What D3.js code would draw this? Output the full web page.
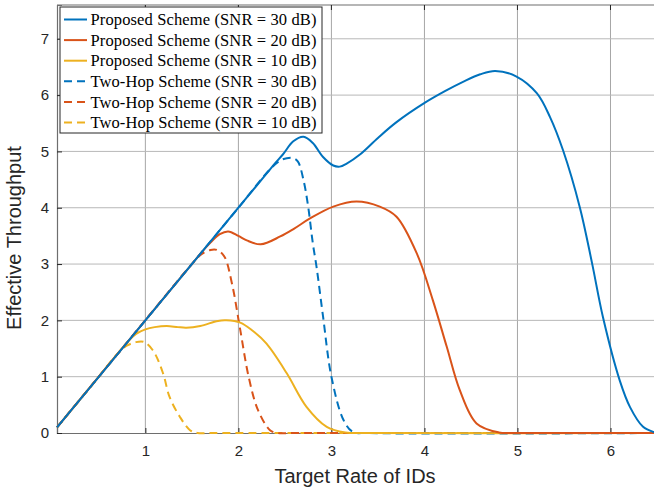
<!DOCTYPE html>
<html>
<head>
<meta charset="utf-8">
<script src="https://cdn.jsdelivr.net/npm/d3@7"></script>
<style>
  body { margin: 0; background: #fff; }
  svg { display: block; }
</style>
</head>
<body>
<div id="chart"></div>
<script>
// curve samples
let p30x = [0.05, 1.0, 2.0, 2.3, 2.4, 2.48, 2.59, 2.70, 2.80, 2.91, 3.02, 3.09, 3.16, 3.31, 3.50, 3.70, 4.01, 4.22, 4.42, 4.60, 4.76, 4.99, 5.21, 5.35, 5.49, 5.67, 5.80, 5.92, 6.10, 6.21, 6.35, 6.46, 6.5];
let p30y = [0.1, 2.0, 4.0, 4.6, 4.8, 4.95, 5.18, 5.26, 5.15, 4.90, 4.75, 4.73, 4.78, 4.95, 5.24, 5.52, 5.87, 6.07, 6.24, 6.37, 6.43, 6.33, 6.03, 5.61, 5.02, 4.01, 3.03, 2.05, 0.93, 0.46, 0.11, 0.02, 0.01];

let p20x = [0.05, 0.8, 1.5, 1.6, 1.7, 1.8, 1.89, 2.0, 2.09, 2.24, 2.45, 2.6, 2.77, 3.02, 3.27, 3.52, 3.70, 3.92, 4.09, 4.24, 4.38, 4.56, 4.8, 4.95, 5.2, 6.5];
let p20y = [0.1, 1.6, 3.0, 3.2, 3.38, 3.53, 3.58, 3.5, 3.42, 3.35, 3.49, 3.63, 3.81, 4.02, 4.11, 4.02, 3.84, 3.18, 2.36, 1.53, 0.76, 0.17, 0.01, 0.0, 0.0, 0.0];

let p10x = [0.05, 0.4, 0.8, 0.9, 1.0, 1.1, 1.23, 1.35, 1.44, 1.59, 1.78, 1.87, 2.02, 2.15, 2.30, 2.52, 2.73, 2.95, 3.15, 3.4, 6.5];
let p10y = [0.1, 0.8, 1.6, 1.76, 1.84, 1.88, 1.9, 1.88, 1.87, 1.90, 1.99, 2.0, 1.96, 1.82, 1.59, 1.06, 0.47, 0.11, 0.01, 0.0, 0.0];

let t30x = [0.05, 1.0, 2.0, 2.35, 2.45, 2.52, 2.59, 2.64, 2.70, 2.75, 2.80, 2.84, 2.91, 3.0, 3.13, 3.23, 3.4, 6.5];
let t30y = [0.1, 2.0, 4.0, 4.7, 4.84, 4.88, 4.88, 4.82, 4.49, 4.02, 3.37, 2.95, 2.07, 1.0, 0.23, 0.02, 0.0, 0.0];

let t20x = [0.05, 0.8, 1.5, 1.6, 1.7, 1.77, 1.85, 1.93, 2.02, 2.11, 2.21, 2.34, 2.42, 2.6, 6.5];
let t20y = [0.1, 1.6, 3.0, 3.17, 3.25, 3.25, 3.13, 2.66, 1.83, 1.0, 0.41, 0.05, 0.0, 0.0, 0.0];

let t10x = [0.05, 0.4, 0.72, 0.8, 0.89, 0.98, 1.08, 1.19, 1.26, 1.37, 1.48, 1.56, 1.75, 6.5];
let t10y = [0.1, 0.8, 1.44, 1.55, 1.61, 1.62, 1.47, 1.06, 0.64, 0.29, 0.05, 0.0, 0.0, 0.0];

let seriesNames = ['Proposed Scheme (SNR = 30 dB)', 'Proposed Scheme (SNR = 20 dB)', 'Proposed Scheme (SNR = 10 dB)',
                   'Two-Hop Scheme (SNR = 30 dB)', 'Two-Hop Scheme (SNR = 20 dB)', 'Two-Hop Scheme (SNR = 10 dB)'];
let seriesX = [p30x, p20x, p10x, t30x, t20x, t10x];
let seriesY = [p30y, p20y, p10y, t30y, t20y, t10y];
let seriesColors = ['#0072BD', '#D95319', '#EDB120', '#0072BD', '#D95319', '#EDB120'];
let seriesDashed = [false, false, false, true, true, true];

let xTicks = [1, 2, 3, 4, 5, 6];
let yTicks = [0, 1, 2, 3, 4, 5, 6, 7];

//chart constants
let totalWidth = 654;
let totalHeight = 491;
let margins = { top: 5, left: 57, bottom: 58 };
let plotRight = 657;
let plotBottom = totalHeight - margins.bottom;

let xScale = d3.scaleLinear().domain([0.05, 6.5]).range([margins.left, plotRight]);
let yScale = d3.scaleLinear().domain([0, 7.6]).range([plotBottom, margins.top]);

let svg = d3.select('#chart')
    .append('svg')
    .attr('width', totalWidth)
    .attr('height', totalHeight);

// grid
svg.append('g')
    .selectAll('line')
    .data(xTicks)
    .enter()
    .append('line')
    .attr('x1', d => xScale(d)).attr('x2', d => xScale(d))
    .attr('y1', margins.top).attr('y2', plotBottom)
    .attr('stroke', '#a6a6a6').attr('stroke-width', 1);

svg.append('g')
    .selectAll('line')
    .data(yTicks.filter(d => d > 0))
    .enter()
    .append('line')
    .attr('x1', margins.left).attr('x2', plotRight)
    .attr('y1', d => yScale(d)).attr('y2', d => yScale(d))
    .attr('stroke', '#b8b8b8').attr('stroke-width', 1);

// axes (ticks inside, like matlab)
let xAxis = d3.axisBottom(xScale).tickValues(xTicks).tickSize(-5).tickPadding(12).tickFormat(d3.format('d'));
let yAxis = d3.axisLeft(yScale).tickValues(yTicks).tickSize(-5).tickPadding(8).tickFormat(d3.format('d'));

let gx = svg.append('g')
    .attr('transform', `translate(0, ${plotBottom})`)
    .call(xAxis);
let gy = svg.append('g')
    .attr('transform', `translate(${margins.left}, 0)`)
    .call(yAxis);

[gx, gy].forEach(g => {
    g.select('.domain').attr('stroke', '#6e6e6e').attr('stroke-width', 1.2);
    g.selectAll('.tick line').attr('stroke', '#262626');
    g.selectAll('.tick text')
        .style('font-family', '"Liberation Sans", Arial, sans-serif')
        .style('font-size', '15px')
        .attr('fill', '#262626');
});

// top box edge + top ticks
svg.append('line')
    .attr('x1', margins.left).attr('x2', plotRight)
    .attr('y1', margins.top).attr('y2', margins.top)
    .attr('stroke', '#6e6e6e').attr('stroke-width', 1.2);
svg.append('g')
    .selectAll('line')
    .data(xTicks)
    .enter()
    .append('line')
    .attr('x1', d => xScale(d)).attr('x2', d => xScale(d))
    .attr('y1', margins.top).attr('y2', margins.top + 5)
    .attr('stroke', '#262626');

// curves
let line = d3.line()
    .x(d => xScale(d[0]))
    .y(d => yScale(d[1]))
    .curve(d3.curveCatmullRom.alpha(0.5));

let drawOrder = [5, 4, 3, 2, 1, 0];
drawOrder.forEach(i => {
    let pts = seriesX[i].map((x, j) => [x, seriesY[i][j]]);
    svg.append('path')
        .datum(pts)
        .attr('d', line)
        .attr('fill', 'none')
        .attr('stroke', seriesColors[i])
        .attr('stroke-width', 2)
        .attr('stroke-dasharray', seriesDashed[i] ? '8,5' : null);
});

// axis labels
svg.append('text')
    .attr('x', 355)
    .attr('y', 483)
    .attr('text-anchor', 'middle')
    .style('font-family', '"Liberation Sans", Arial, sans-serif')
    .style('font-size', '20px')
    .attr('fill', '#262626')
    .text('Target Rate of IDs');

svg.append('text')
    .attr('transform', 'translate(21, 238) rotate(-90)')
    .attr('text-anchor', 'middle')
    .style('font-family', '"Liberation Sans", Arial, sans-serif')
    .style('font-size', '20px')
    .attr('fill', '#262626')
    .text('Effective Throughput');

// legend
let legend = svg.append('g').attr('transform', 'translate(60, 7)');
legend.append('rect')
    .attr('width', 262)
    .attr('height', 126)
    .attr('fill', '#fff')
    .attr('stroke', '#262626')
    .attr('stroke-width', 1);

let rows = legend.selectAll('.legend')
    .data(seriesNames)
    .enter()
    .append('g')
    .attr('class', 'legend')
    .attr('transform', (d, i) => `translate(0, ${12.5 + i * 20.6})`);

rows.append('line')
    .attr('x1', 4).attr('x2', 27)
    .attr('stroke', (d, i) => seriesColors[i])
    .attr('stroke-width', 2)
    .attr('stroke-dasharray', (d, i) => seriesDashed[i] ? '8,5' : null);

rows.append('text')
    .attr('x', 30.5)
    .attr('dy', '0.35em')
    .attr('textLength', 226)
    .attr('lengthAdjust', 'spacing')
    .style('font-family', '"Liberation Serif", "Times New Roman", serif')
    .style('font-size', '16.5px')
    .attr('fill', '#000')
    .text(d => d);
</script>
</body>
</html>
